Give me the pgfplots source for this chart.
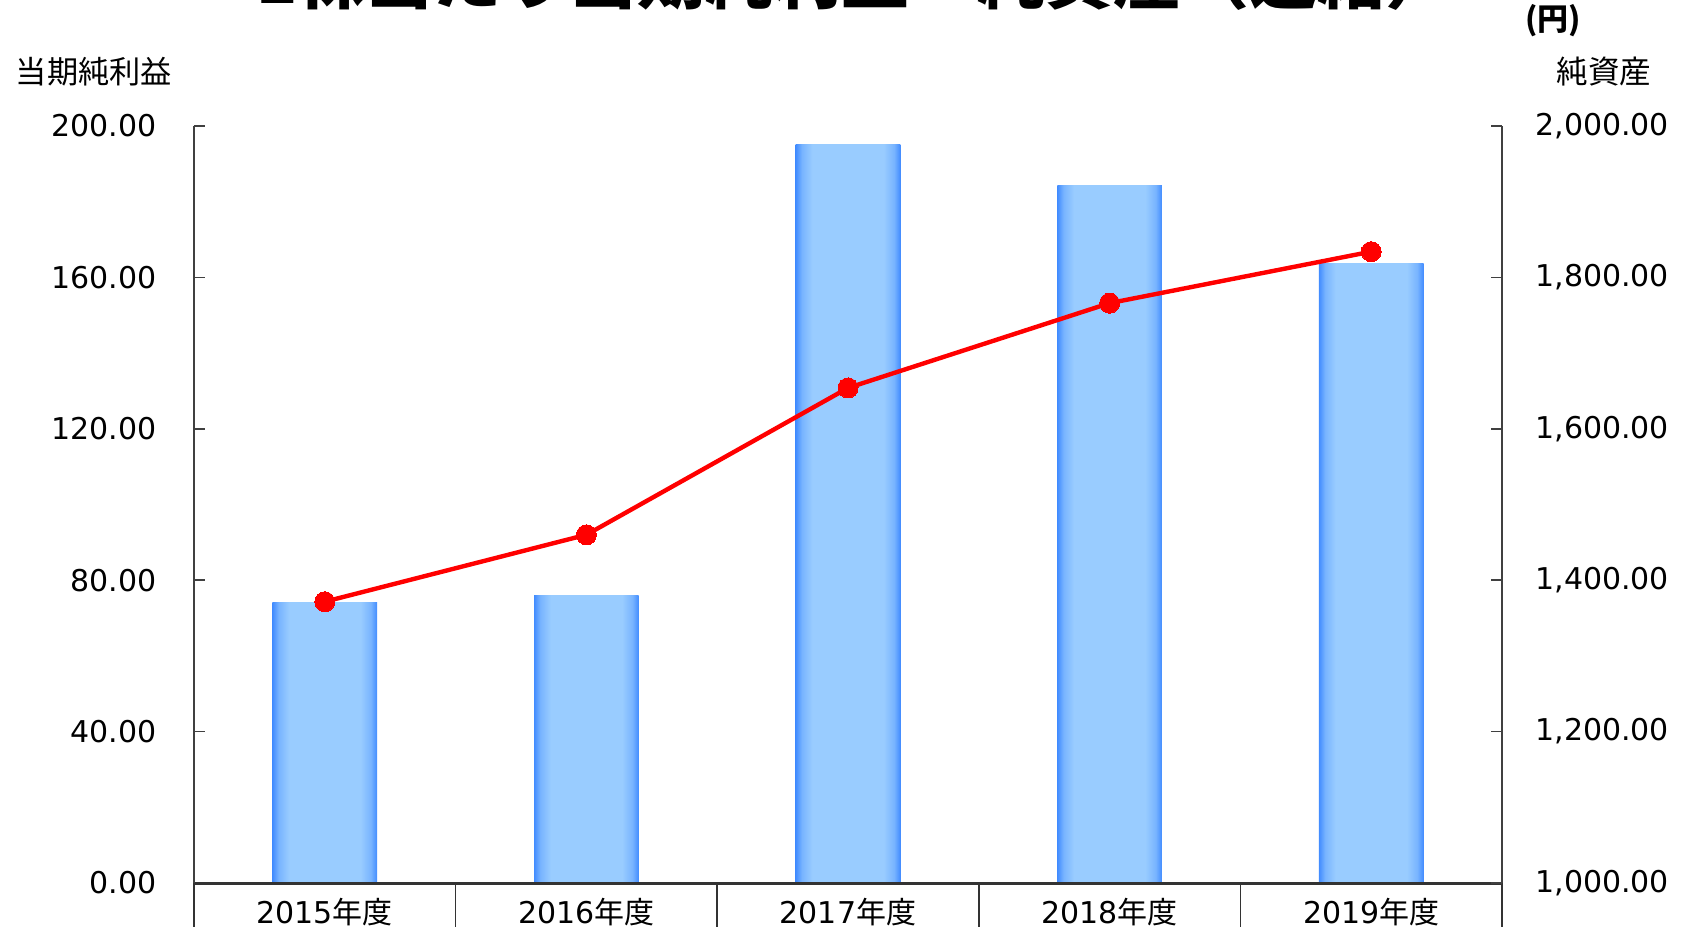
\documentclass[border=0pt]{standalone}
\usepackage{pgfplots}
\pgfplotsset{compat=1.18}
\usepackage{fontspec}
\setmainfont{DejaVu Sans}
\newfontfamily\cjk{Noto Sans CJK JP}
\definecolor{barmid}{RGB}{153,204,255}
\definecolor{baredge}{RGB}{66,140,255}
\definecolor{barnear}{RGB}{120,180,255}
\pgfdeclarehorizontalshading{barshade}{100bp}{color(0bp)=(baredge); color(25bp)=(baredge); color(28bp)=(barnear); color(33bp)=(barmid); color(67bp)=(barmid); color(72bp)=(barnear); color(75bp)=(baredge); color(100bp)=(baredge)}
\begin{document}
\begin{tikzpicture}
\pgfplotsset{
  common/.style={width=654pt,height=378.5pt,scale only axis,
    xmin=-0.5,xmax=4.5,
    /pgf/number format/assume math mode=true,
    tick label style={font=\fontsize{15}{18}\selectfont, text=black},
    major tick length=5.5pt, tick align=inside,
    clip=false},
  barstyle/.style={ybar, bar width=0.4, draw=none, shading=barshade}
}
\begin{axis}[common, name=ax,
  axis y line*=left, axis x line*=bottom,
  ymin=0,ymax=200, ytick={0,40,...,200},
  yticklabel style={/pgf/number format/.cd,fixed,fixed zerofill,precision=2,/tikz/.cd, inner sep=0pt, xshift=-18.5pt},
  xtick={0,1,2,3,4},
  xticklabels={{2015\cjk 年度},{2016\cjk 年度},{2017\cjk 年度},{2018\cjk 年度},{2019\cjk 年度}},
  xtick style={draw=none},
  xticklabel style={inner sep=0pt, yshift=-7.5pt},
  x axis line style={line width=1.5pt, draw=black!80, -},
  y axis line style={line width=0.75pt, draw=black!75, -},
  ytick style={line width=0.75pt, draw=black!75},
  axis on top,
]
\addplot[barstyle] coordinates {(0,74.2)};
\addplot[barstyle] coordinates {(1,76)};
\addplot[barstyle] coordinates {(2,195)};
\addplot[barstyle] coordinates {(3,184.4)};
\addplot[barstyle] coordinates {(4,163.7)};
\pgfplotsinvokeforeach{-0.5,0.5,1.5,2.5,3.5,4.5}{\draw[black!80,line width=0.75pt] (axis cs:#1,0) -- ++(0pt,-40pt);}
\end{axis}
\begin{axis}[common,
  axis y line*=right, axis x line=none,
  ymin=1000,ymax=2000, ytick={1000,1200,...,2000},
  yticklabel style={/pgf/number format/.cd,fixed,fixed zerofill,precision=2,1000 sep={,},/tikz/.cd, inner sep=0pt, xshift=16.5pt},
  y axis line style={line width=0.75pt, draw=black!75, -},
  ytick style={line width=0.75pt, draw=black!75},
]
\addplot[red, line width=2.2pt, mark=*, mark size=5pt, mark options={fill=red, draw=red, line width=0pt}] coordinates {(0,1371.6) (1,1460) (2,1654) (3,1766) (4,1834)};
\end{axis}
\node[anchor=base, inner sep=0pt, font=\fontsize{34}{40}\selectfont\cjk\bfseries] at ([xshift=3.5pt,yshift=61pt]ax.north) {1株当たり当期純利益・純資産（連結）};
\node[inner sep=0pt, font=\fontsize{15.5}{18}\selectfont\cjk\bfseries] at ([xshift=25.5pt,yshift=52.5pt]ax.north east) {(円)};
\node[inner sep=0pt, font=\fontsize{15.6}{18}\selectfont\cjk] at ([xshift=-50pt,yshift=27pt]ax.north west) {当期純利益};
\node[inner sep=0pt, font=\fontsize{15.8}{18}\selectfont\cjk] at ([xshift=51pt,yshift=27pt]ax.north east) {純資産};
\pgfresetboundingbox
\path[use as bounding box] ([xshift=-97pt,yshift=-22pt]ax.south west) rectangle ([xshift=90.5pt,yshift=63pt]ax.north east);
\end{tikzpicture}
\end{document}
